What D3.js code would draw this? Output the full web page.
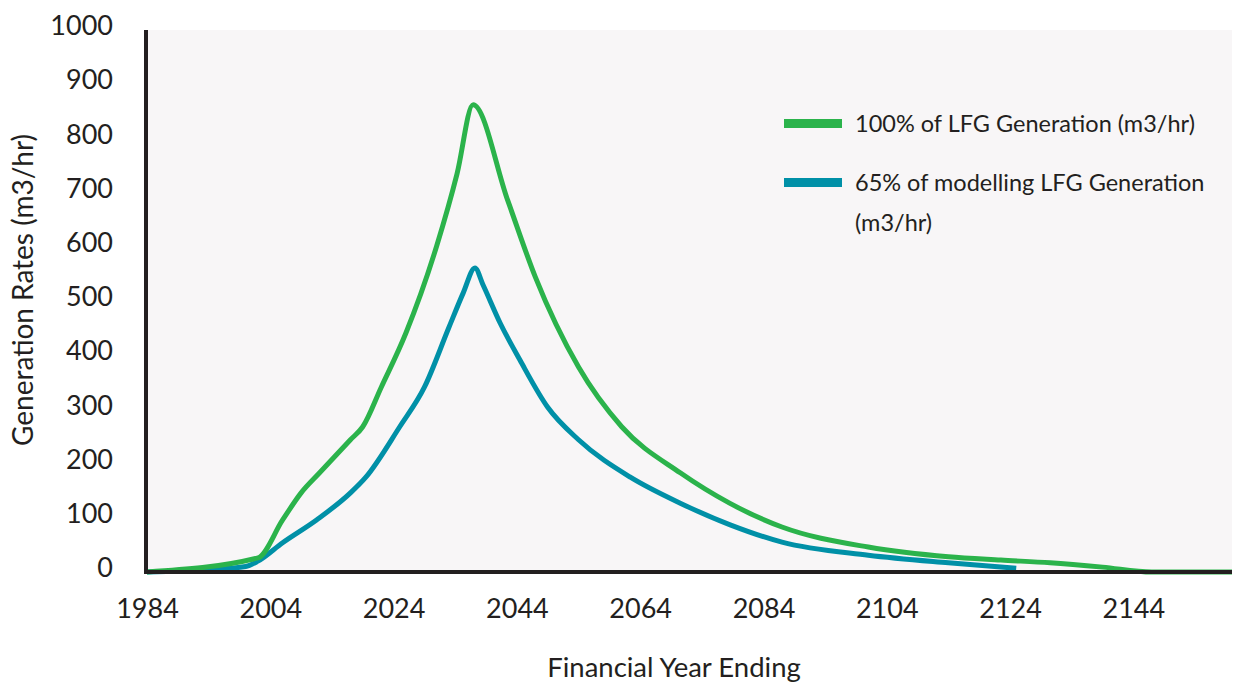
<!DOCTYPE html>
<html>
<head>
<meta charset="utf-8">
<script src="https://cdn.jsdelivr.net/npm/d3@7"></script>
<style>
  html, body { margin: 0; padding: 0; background: #ffffff; }
  svg { display: block; }
  text { font-family: Lato, "Open Sans", sans-serif; fill: #231f20; }
</style>
</head>
<body>
<svg id="chart" width="1234" height="684"></svg>
<script>
// ---- data ----
const yTicks = [0, 100, 200, 300, 400, 500, 600, 700, 800, 900, 1000];
const xTicks = [1984, 2004, 2024, 2044, 2064, 2084, 2104, 2124, 2144];

const greenYears  = [1984, 2002, 2006, 2009, 2012, 2017, 2019, 2022, 2026, 2031, 2034.3, 2036.9, 2042.5, 2047, 2054, 2061, 2070.5, 2078.5, 2087, 2101, 2114, 2122.5, 2130.5, 2139, 2147, 2160];
const greenValues = [0,    26,   96,   146,  183,  244,  268,  341,  441,  602,  735,    862,    686,    544,  378,  268,  183,    127,    83,   46,   28,   22,     17,     9,    0,    0];

const blueYears  = [1984, 1994, 2000, 2002, 2006, 2011.5, 2017, 2019.5, 2025, 2029, 2033, 2035.3, 2037.2, 2038.5, 2041.3, 2044.5, 2049, 2054, 2062.4, 2070.5, 2078.6, 2087, 2101, 2114, 2125];
const blueValues = [0,    4,    10,   20,   54,   96,     146,  175,    268,  341,  452,  515,    561,    530,    459,    391,    304,  244,  175,    127,    87,     55,   31,   17,   7];

const seriesNames = ["100% of LFG Generation (m3/hr)", "65% of modelling LFG Generation", "(m3/hr)"];

// ---- layout ----
const svg = d3.select("#chart");
const padL = 147, padR = 1232, padT = 30, padB = 572;

const x = d3.scaleLinear().domain([1984, 2160]).range([padL, padR]);
const y = d3.scaleLinear().domain([0, 1000]).range([padB, padT]);

const green = "#2bb34b";
const blue = "#0090a7";
const ink = "#231f20";

// plot background
svg.append("rect")
  .attr("x", padL).attr("y", padT)
  .attr("width", padR - padL).attr("height", padB - padT)
  .attr("fill", "#f8f6f7");

// lines
const line = d3.line()
  .x(d => x(d[0])).y(d => y(d[1]))
  .curve(d3.curveMonotoneX);

const greenData = greenYears.map((yr, i) => [yr, greenValues[i]]);
const blueData = blueYears.map((yr, i) => [yr, blueValues[i]]);

// axes
const yAxis = svg.append("g")
  .attr("transform", `translate(${padL},0)`)
  .call(d3.axisLeft(y).tickValues(yTicks).tickSize(0).tickPadding(34).tickFormat(d3.format("d")));
yAxis.select(".domain").remove();
yAxis.selectAll("text")
  .attr("font-size", 27).attr("dy", "0.32em")
  .attr("transform", "translate(0,-4)")
  .style("font-family", "Lato, sans-serif").attr("fill", ink);

const xAxis = svg.append("g")
  .attr("transform", `translate(0,${padB})`)
  .call(d3.axisBottom(x).tickValues(xTicks).tickSize(0).tickPadding(27).tickFormat(d3.format("d")));
xAxis.select(".domain").remove();
xAxis.selectAll("text")
  .attr("font-size", 27)
  .style("font-family", "Lato, sans-serif").attr("fill", ink);

svg.append("path").datum(blueData)
  .attr("d", line).attr("fill", "none")
  .attr("stroke", blue).attr("stroke-width", 5)
  .attr("stroke-linejoin", "round").attr("stroke-linecap", "butt");

svg.append("path").datum(greenData)
  .attr("d", line).attr("fill", "none")
  .attr("stroke", green).attr("stroke-width", 5)
  .attr("stroke-linejoin", "round").attr("stroke-linecap", "butt");

// axis lines
svg.append("line")
  .attr("x1", padL - 1).attr("x2", padL - 1)
  .attr("y1", padT).attr("y2", padB + 2)
  .attr("stroke", ink).attr("stroke-width", 4);
svg.append("line")
  .attr("x1", padL - 3).attr("x2", padR)
  .attr("y1", padB).attr("y2", padB)
  .attr("stroke", ink).attr("stroke-width", 4);

// axis titles
svg.append("text")
  .attr("x", 674).attr("y", 677)
  .attr("text-anchor", "middle").attr("font-size", 27.5)
  .text("Financial Year Ending");

svg.append("text")
  .attr("transform", "translate(33,290) rotate(-90)")
  .attr("text-anchor", "middle").attr("font-size", 28)
  .text("Generation Rates (m3/hr)");

// legend
const legend = svg.append("g");
legend.append("rect").attr("x", 784).attr("y", 119).attr("width", 58).attr("height", 9).attr("fill", green);
legend.append("text").attr("x", 855).attr("y", 124).attr("dy", "0.35em").attr("font-size", 23.5).text(seriesNames[0]);
legend.append("rect").attr("x", 784).attr("y", 178).attr("width", 58).attr("height", 9).attr("fill", blue);
legend.append("text").attr("x", 855).attr("y", 183).attr("dy", "0.35em").attr("font-size", 23.5).text(seriesNames[1]);
legend.append("text").attr("x", 855).attr("y", 223).attr("dy", "0.35em").attr("font-size", 23.5).text(seriesNames[2]);
</script>
</body>
</html>
